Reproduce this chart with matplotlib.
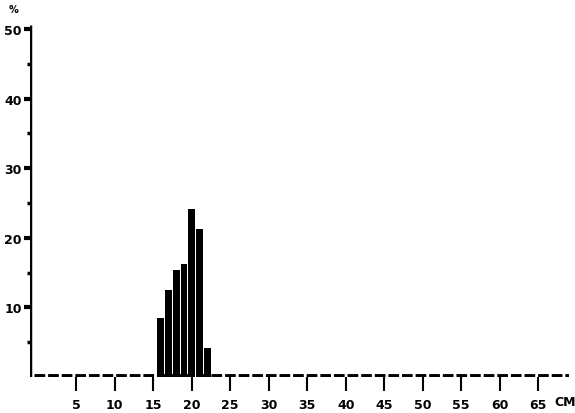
import numpy as np
import matplotlib
matplotlib.use("Agg")
import matplotlib.pyplot as plt

# length classes (cm) and share of catch (%)
length_cm = [16, 17, 18, 19, 20, 21, 22]
percent = [8.5, 12.5, 15.3, 16.3, 24.2, 21.2, 4.2]
x_ticks = [5, 10, 15, 20, 25, 30, 35, 40, 45, 50, 55, 60, 65]
y_ticks = [10, 20, 30, 40, 50]
y_minor = [5, 15, 25, 35, 45]

plt.rcParams['font.family'] = ['DejaVu Sans']
fig = plt.figure(figsize=(5.75, 4.14), dpi=100)
ax = fig.add_axes([0.0522, 0.087, 0.9374, 0.8575])
ax.set_xlim(-1, 69)
ax.set_ylim(0, 51)

ax.bar(length_cm, percent, width=0.9, color='black', align='center')

# axis lines drawn by hand, like the old printout
for s in ax.spines.values():
    s.set_visible(False)
ax.plot([-1, -1], [0, 50.5], color='black', lw=2.5, solid_capstyle='butt')
ax.plot([-0.5, 69], [0.1, 0.1], color='black', lw=3.5, linestyle=(0, (2.2, 0.6)))

ax.set_xticks(x_ticks)
ax.set_xticklabels([str(v) for v in x_ticks], fontsize=9, fontweight='bold')
ax.tick_params(axis='x', direction='out', length=10, width=1.5, pad=5)

ax.set_yticks(y_ticks)
ax.set_yticklabels([str(v) for v in y_ticks], fontsize=9, fontweight='bold')
ax.tick_params(axis='y', direction='out', length=4, width=3, pad=2)
ax.set_yticks(y_minor, minor=True)
ax.tick_params(axis='y', which='minor', direction='out', length=2, width=2.5)

ax.text(-3.2, 52.9, '%', fontsize=7, fontweight='bold', ha='center', va='center')
ax.text(68.5, -2.6, 'CM', fontsize=9, fontweight='bold', ha='center', va='top')

fig.savefig('out.png', dpi=100)
